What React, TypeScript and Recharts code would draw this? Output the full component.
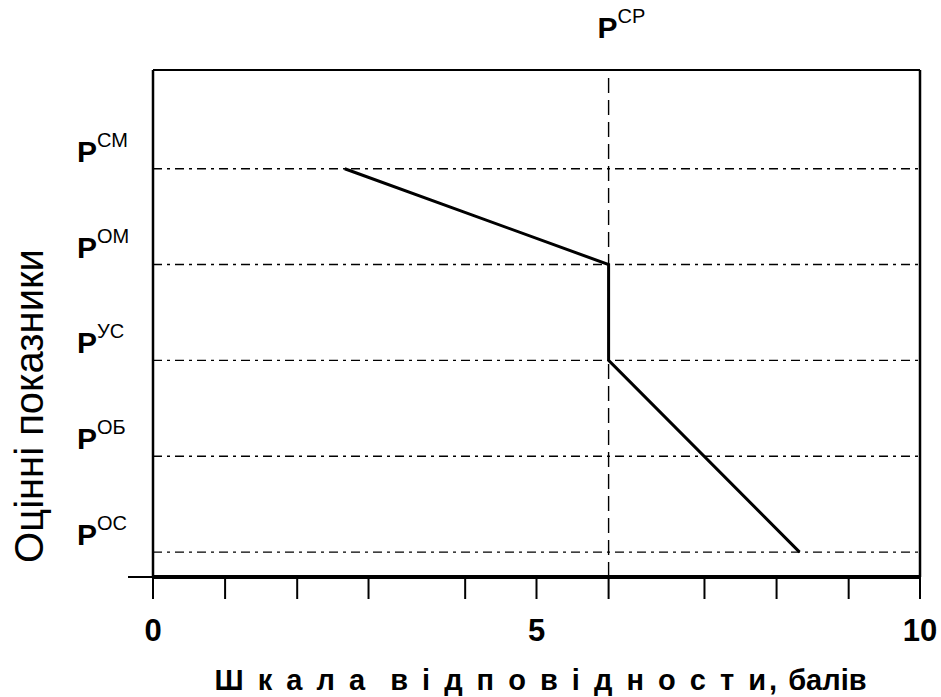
import React from 'react';
import { LineChart, Line, XAxis, YAxis, ReferenceLine } from 'recharts';

// ---- data ----
const xTicks = [0, 0.94, 1.88, 2.81, 4.07, 5, 5.94, 7.19, 8.13, 9.07, 10];
const xTickLabels = ['0', '5', '10'];
const levelValues = [1, 2, 3, 4, 5];
const levelNames = ['ОС', 'ОБ', 'УС', 'ОМ', 'СМ'];
const lineX = [2.5, 5.94, 5.94, 8.43];
const lineY = [5, 4, 3, 1];
const pcpX = 5.94;
const pcpName = 'СР';
const Y_MIN = 0.74;
const Y_MAX = 6.03;
const xTitleSpaced = 'Ш к а л а  в і д п о в і д н о с т и,';
const xTitleTail = ' балів';
const yTitle = 'Оцінні показники';

const data = lineX.map((x, i) => ({ x, y: lineY[i] }));
const FONT = "Arial, 'Liberation Sans', sans-serif";

const XTick = (props: any) => {
  const { x, y, payload } = props;
  const label = String(payload.value);
  if (!xTickLabels.includes(label)) return null;
  return (
    <text x={x} y={y + 42} textAnchor="middle" fontFamily={FONT} fontWeight="bold" fontSize={31} fill="#000">
      {label}
    </text>
  );
};

const YTick = (props: any) => {
  const { x, y, payload } = props;
  const v = payload.value;
  if (v === Y_MIN) {
    return <line x1={x - 25} x2={x} y1={y} y2={y} stroke="#000" strokeWidth={2} />;
  }
  const idx = levelValues.indexOf(v);
  if (idx < 0) return null;
  return (
    <text x={x - 76} y={y - 7} fontFamily={FONT} fill="#000">
      <tspan fontWeight="bold" fontSize={30}>P</tspan>
      <tspan fontSize={20} dy={-15}>{levelNames[idx]}</tspan>
    </text>
  );
};

const PcpLabel = (props: any) => {
  const { viewBox } = props;
  const x = viewBox.x;
  return (
    <text x={x - 11} y={38} fontFamily={FONT} fill="#000">
      <tspan fontWeight="bold" fontSize={30}>P</tspan>
      <tspan fontSize={20} dy={-15}>{pcpName}</tspan>
    </text>
  );
};

const XTitle = (props: any) => {
  const { viewBox } = props;
  return (
    <text x={viewBox.x + viewBox.width / 2 + 4} y={viewBox.y + 113} textAnchor="middle" fontFamily={FONT} fontWeight="bold" fontSize={29} fill="#000" style={{ whiteSpace: 'pre' }}>
      <tspan letterSpacing={3.0}>{xTitleSpaced}</tspan>
      <tspan>{xTitleTail}</tspan>
    </text>
  );
};

const YTitle = () => {
  const cx = 29;
  const cy = 406;
  return (
    <text x={cx} y={cy} transform={`rotate(-90 ${cx} ${cy})`} textAnchor="middle" dominantBaseline="central" fontFamily={FONT} fontSize={40} fill="#000">
      {yTitle}
    </text>
  );
};

export default function App() {
  return (
    <div style={{ position: 'absolute', left: 0, top: 0, background: '#fff' }}>
      <LineChart width={941} height={697} data={data} margin={{ top: 70, right: 21, bottom: 0, left: 0 }}>
        <XAxis
          dataKey="x"
          type="number"
          domain={[0, 10]}
          ticks={xTicks}
          interval={0}
          height={120}
          tickSize={22}
          tickMargin={0}
          axisLine={{ stroke: '#000', strokeWidth: 4 }}
          tickLine={{ stroke: '#000', strokeWidth: 2 }}
          tick={<XTick />}
          label={<XTitle />}
        />
        <YAxis
          type="number"
          domain={[Y_MIN, Y_MAX]}
          ticks={[Y_MIN, ...levelValues]}
          interval={0}
          width={153}
          tickSize={0}
          tickMargin={0}
          tickLine={false}
          axisLine={{ stroke: '#000', strokeWidth: 2.5 }}
          tick={<YTick />}
          label={<YTitle />}
          allowDataOverflow
        />
        {levelValues.map((v) => (
          <ReferenceLine key={v} y={v} stroke="#000" strokeWidth={1.4} strokeDasharray="9 5 3 5" />
        ))}
        <ReferenceLine x={pcpX} stroke="#000" strokeWidth={1.4} strokeDasharray="15 7" label={<PcpLabel />} />
        <ReferenceLine y={Y_MAX} stroke="#000" strokeWidth={2} />
        <ReferenceLine x={10} stroke="#000" strokeWidth={2.5} />
        <Line type="linear" dataKey="y" stroke="#000" strokeWidth={3} dot={false} isAnimationActive={false} />
      </LineChart>
    </div>
  );
}
